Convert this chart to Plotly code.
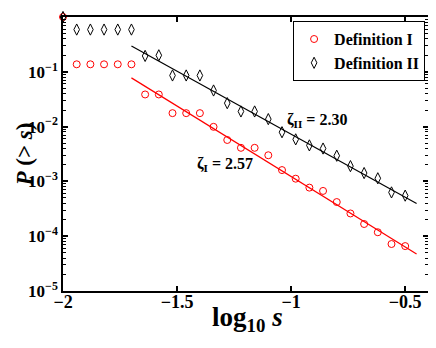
import numpy as np
import plotly.graph_objects as go

# log10 s values and P(>s) for both definitions
x_def1 = [-2.0, -1.94, -1.88, -1.82, -1.76, -1.70, -1.64, -1.58, -1.52, -1.46, -1.40, -1.34,
          -1.28, -1.22, -1.16, -1.10, -1.04, -0.98, -0.92, -0.86, -0.80, -0.74, -0.68,
          -0.62, -0.56, -0.50]
p_def1 = [1.0, 0.137, 0.137, 0.137, 0.137, 0.137, 0.0386, 0.0386, 0.0176, 0.0176, 0.0176, 0.0099,
          0.0057, 0.0041, 0.0041, 0.0030, 0.00161, 0.00112, 0.00077, 0.00067, 0.00042, 0.00026,
          0.000167, 0.000118, 0.000072, 0.000066]

x_def2 = [-2.0, -1.94, -1.88, -1.82, -1.76, -1.70, -1.64, -1.58, -1.52, -1.46, -1.40, -1.34,
          -1.28, -1.22, -1.16, -1.10, -1.04, -0.98, -0.92, -0.86, -0.80, -0.74, -0.68,
          -0.62, -0.56, -0.50]
p_def2 = [1.0, 0.59, 0.59, 0.59, 0.59, 0.59, 0.195, 0.20, 0.0857, 0.0857, 0.0857, 0.0456,
          0.0268, 0.0189, 0.0189, 0.0137, 0.0079, 0.00585, 0.00454, 0.00398, 0.00294, 0.0019,
          0.00142, 0.00114, 0.00063, 0.00055]

# power-law fits: log10 P = a + slope * (log10 s - x0)
fit_x = [-1.70, -0.45]
fit1_a, fit1_slope = -1.111, -2.57
fit2_a, fit2_slope = -0.528, -2.30

x_range = [-2, -0.4]
y_range_log = [-5, 0]
xtick_vals = [-2, -1.5, -1, -0.5]
xtick_text = ["<b>−2</b>", "<b>−1.5</b>", "<b>−1</b>", "<b>−0.5</b>"]
ytick_vals = [1, 0.1, 0.01, 0.001, 0.0001, 0.00001]
ytick_text = ["<b>10<sup>0</sup></b>", "<b>10<sup>−1</sup></b>", "<b>10<sup>−2</sup></b>",
              "<b>10<sup>−3</sup></b>", "<b>10<sup>−4</sup></b>", "<b>10<sup>−5</sup></b>"]
yminor_vals = [m * 10.0 ** e for e in range(-5, 0) for m in range(2, 10)]

font = "Liberation Serif"
pw, ph = 365, 274  # plot area in pixels

fig = go.Figure()
fig.add_trace(go.Scatter(x=x_def1, y=p_def1, mode="markers", name="<b>Definition I</b>",
                         marker=dict(symbol="circle-open", size=7, color="red",
                                     line=dict(width=1)),
                         cliponaxis=False))
fig.add_trace(go.Scatter(x=x_def2, y=p_def2, mode="markers", name="<b>Definition II</b>",
                         marker=dict(symbol="diamond-tall-open", size=8, color="black",
                                     line=dict(width=1)),
                         cliponaxis=False))

fx = np.array(fit_x)
fig.add_trace(go.Scatter(x=fx, y=10 ** (fit1_a + fit1_slope * (fx - fit_x[0])), mode="lines",
                         line=dict(color="red", width=1.2), showlegend=False, hoverinfo="skip"))
fig.add_trace(go.Scatter(x=fx, y=10 ** (fit2_a + fit2_slope * (fx - fit_x[0])), mode="lines",
                         line=dict(color="black", width=1.2), showlegend=False, hoverinfo="skip"))

# the page body has an 8px margin all round; keep the figure inside the window
fig.update_layout(
    width=420, height=332,
    margin=dict(l=55, r=0, t=9, b=49, autoexpand=False),
    paper_bgcolor="white", plot_bgcolor="white",
    font=dict(family=font, color="black"),
    showlegend=True,
    legend=dict(x=0.992, y=0.985, xanchor="right", yanchor="top",
                bgcolor="white", bordercolor="black", borderwidth=1,
                font=dict(family=font, size=16), itemwidth=30, tracegroupgap=0),
    xaxis=dict(range=x_range, tickvals=xtick_vals, ticktext=xtick_text, automargin=False,
               ticks="inside", ticklen=5, tickwidth=1.5, tickcolor="black",
               showline=True, linecolor="black", linewidth=1.5, mirror="ticks",
               showgrid=False, zeroline=False,
               ticklabelstandoff=-6, tickfont=dict(family=font, size=18)),
    yaxis=dict(type="log", range=y_range_log, tickvals=ytick_vals, ticktext=ytick_text,
               automargin=False, ticks="inside", ticklen=5, tickwidth=1.5, tickcolor="black",
               showline=True, linecolor="black", linewidth=1.5, mirror="ticks",
               showgrid=False, zeroline=False,
               minor=dict(tickmode="array", tickvals=yminor_vals, ticks="inside", ticklen=3,
                          tickwidth=1, tickcolor="black", showgrid=False),
               tickfont=dict(family=font, size=17)),
)

fig.add_annotation(x=-1.025, y=-1.88, xref="x", yref="y", xanchor="left", yanchor="middle",
                   text="<b>ζ<sub>II</sub> = 2.30</b>", showarrow=False,
                   font=dict(family=font, size=16))
fig.add_annotation(x=-1.42, y=-2.70, xref="x", yref="y", xanchor="left", yanchor="middle",
                   text="<b>ζ<sub>I</sub> = 2.57</b>", showarrow=False,
                   font=dict(family=font, size=16))

# axis titles placed by window pixel position, converted to paper coordinates
fig.add_annotation(x=247, y=338, xref="paper", yref="paper", showarrow=False,
                   text="<b>log<sub>10</sub> <i>s</i></b>",
                   font=dict(family=font, size=27))
fig.add_annotation(x=10, y=155, xref="paper", yref="paper", showarrow=False, textangle=-90,
                   text="<b><i>P</i> (&gt; <i>s</i>)</b>",
                   font=dict(family=font, size=23))

for ann in fig.layout.annotations[2:]:
    ann.x = (ann.x - 63) / pw
    ann.y = (291 - ann.y) / ph

fig.write_html("out.html")
